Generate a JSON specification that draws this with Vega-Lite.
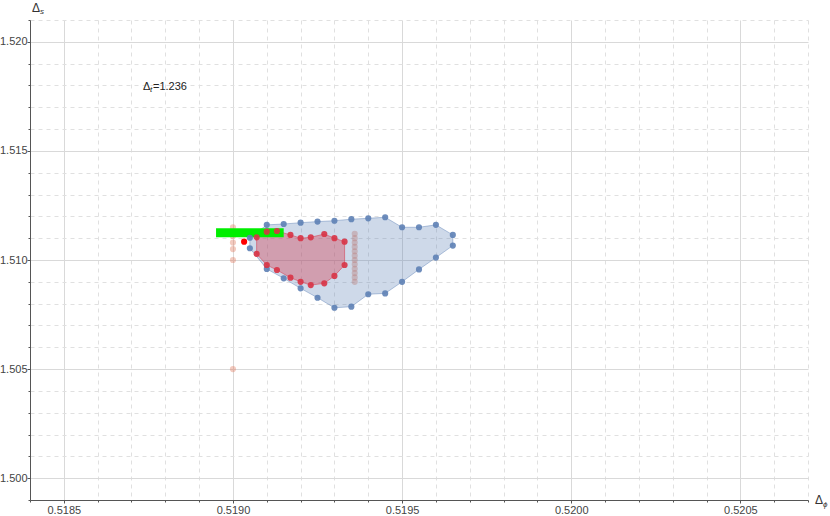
{
  "$schema": "https://vega.github.io/schema/vega-lite/v6.json",
  "width": 778,
  "height": 480,
  "autosize": {"type": "none"},
  "padding": {"left": 30, "top": 20, "right": 22, "bottom": 16},
  "background": "white",
  "config": {
    "view": {"stroke": null},
    "font": "Liberation Sans",
    "axis": {"labelFont": "Liberation Sans", "titleFont": "Liberation Sans"}
  },
  "resolve": {"axis": {"x": "independent", "y": "independent"}},
  "datasets": {
    "blue": [
      {"i": 1, "x": 0.51910, "y": 1.51161},
      {"i": 2, "x": 0.51915, "y": 1.51165},
      {"i": 3, "x": 0.51920, "y": 1.51171},
      {"i": 4, "x": 0.51925, "y": 1.51176},
      {"i": 5, "x": 0.51930, "y": 1.51180},
      {"i": 6, "x": 0.51935, "y": 1.51187},
      {"i": 7, "x": 0.51940, "y": 1.51191},
      {"i": 8, "x": 0.51945, "y": 1.51196},
      {"i": 9, "x": 0.51950, "y": 1.51150},
      {"i": 10, "x": 0.51955, "y": 1.51150},
      {"i": 11, "x": 0.51960, "y": 1.51161},
      {"i": 12, "x": 0.51965, "y": 1.51115},
      {"i": 13, "x": 0.51965, "y": 1.51066},
      {"i": 14, "x": 0.51960, "y": 1.51011},
      {"i": 15, "x": 0.51955, "y": 1.50957},
      {"i": 16, "x": 0.51950, "y": 1.50900},
      {"i": 17, "x": 0.51945, "y": 1.50847},
      {"i": 18, "x": 0.51940, "y": 1.50843},
      {"i": 19, "x": 0.51935, "y": 1.50786},
      {"i": 20, "x": 0.51930, "y": 1.50781},
      {"i": 21, "x": 0.51925, "y": 1.50827},
      {"i": 22, "x": 0.51920, "y": 1.50870},
      {"i": 23, "x": 0.51915, "y": 1.50916},
      {"i": 24, "x": 0.51910, "y": 1.50959},
      {"i": 25, "x": 0.51905, "y": 1.51054},
      {"i": 26, "x": 0.51905, "y": 1.51102},
      {"i": 27, "x": 0.51910, "y": 1.51161}
    ],
    "red": [
      {"i": 1, "x": 0.51907, "y": 1.51104},
      {"i": 2, "x": 0.51910, "y": 1.51130},
      {"i": 3, "x": 0.51913, "y": 1.51133},
      {"i": 4, "x": 0.51917, "y": 1.51115},
      {"i": 5, "x": 0.51920, "y": 1.51100},
      {"i": 6, "x": 0.51923, "y": 1.51104},
      {"i": 7, "x": 0.51927, "y": 1.51119},
      {"i": 8, "x": 0.51930, "y": 1.51100},
      {"i": 9, "x": 0.51933, "y": 1.51084},
      {"i": 10, "x": 0.51933, "y": 1.50977},
      {"i": 11, "x": 0.51930, "y": 1.50927},
      {"i": 12, "x": 0.51927, "y": 1.50893},
      {"i": 13, "x": 0.51923, "y": 1.50885},
      {"i": 14, "x": 0.51920, "y": 1.50900},
      {"i": 15, "x": 0.51917, "y": 1.50919},
      {"i": 16, "x": 0.51913, "y": 1.50954},
      {"i": 17, "x": 0.51910, "y": 1.50977},
      {"i": 18, "x": 0.51907, "y": 1.51028},
      {"i": 19, "x": 0.51907, "y": 1.51104}
    ],
    "faded": [
      {"x": 0.51900, "y": 1.5115},
      {"x": 0.51900, "y": 1.5111},
      {"x": 0.51900, "y": 1.5108},
      {"x": 0.51900, "y": 1.5105},
      {"x": 0.51900, "y": 1.5100},
      {"x": 0.51900, "y": 1.5050},
      {"x": 0.51936, "y": 1.5090},
      {"x": 0.51936, "y": 1.5092},
      {"x": 0.51936, "y": 1.5094},
      {"x": 0.51936, "y": 1.5096},
      {"x": 0.51936, "y": 1.5098},
      {"x": 0.51936, "y": 1.5100},
      {"x": 0.51936, "y": 1.5102},
      {"x": 0.51936, "y": 1.5104},
      {"x": 0.51936, "y": 1.5106},
      {"x": 0.51936, "y": 1.5108},
      {"x": 0.51936, "y": 1.5110},
      {"x": 0.51936, "y": 1.5112}
    ],
    "best": [{"x": 0.519033, "y": 1.51084}],
    "box": [{"x": 0.51895, "x2": 0.51915, "y": 1.51104, "y2": 1.51145}],
    "label": [
      {"part": "big", "x": 0.518734, "y": 1.51794, "text": "Δ"},
      {"part": "sub", "x": 0.518734, "y": 1.51794, "text": "t"},
      {"part": "rest", "x": 0.518734, "y": 1.51794, "text": "=1.236"}
    ],
    "ytitle": [
      {"part": "big", "x": 0.5184, "y": 1.521, "text": "Δ"},
      {"part": "sub", "x": 0.5184, "y": 1.521, "text": "s"}
    ],
    "xtitle": [
      {"part": "big", "x": 0.5207, "y": 1.499, "text": "Δ"},
      {"part": "sub", "x": 0.5207, "y": 1.499, "text": "ϕ"}
    ]
  },
  "layer": [
    {
      "data": {"name": "faded"},
      "mark": {"type": "circle", "size": 38, "color": "#E07A5F", "opacity": 0.4},
      "encoding": {
        "x": {
          "field": "x", "type": "quantitative",
          "scale": {"domain": [0.5184, 0.5207], "nice": false, "zero": false},
          "axis": {
            "orient": "bottom", "title": null, "labels": false, "domain": false,
            "values": [0.5184,0.5186,0.5187,0.5188,0.5189,0.5191,0.5192,0.5193,0.5194,0.5196,0.5197,0.5198,0.5199,0.5201,0.5202,0.5203,0.5204,0.5206,0.5207],
            "tickColor": "#555", "tickSize": 2,
            "grid": true, "gridColor": "#e0e0e0", "gridDash": [4, 4], "gridWidth": 1
          }
        },
        "y": {
          "field": "y", "type": "quantitative",
          "scale": {"domain": [1.499, 1.521], "nice": false, "zero": false},
          "axis": {
            "orient": "left", "title": null, "labels": false, "domain": false,
            "values": [1.499,1.501,1.502,1.503,1.504,1.506,1.507,1.508,1.509,1.511,1.512,1.513,1.514,1.516,1.517,1.518,1.519,1.521],
            "tickColor": "#555", "tickSize": 2,
            "grid": true, "gridColor": "#e0e0e0", "gridDash": [4, 4], "gridWidth": 1
          }
        }
      }
    },
    {
      "data": {"name": "blue"},
      "mark": {"type": "line", "fill": "#5E81B5", "fillOpacity": 0.3, "stroke": "#5E81B5", "strokeOpacity": 0.45, "strokeWidth": 1},
      "encoding": {
        "x": {
          "field": "x", "type": "quantitative",
          "axis": {
            "orient": "bottom", "title": null,
            "values": [0.5185, 0.519, 0.5195, 0.52, 0.5205],
            "format": ".4f",
            "labelOverlap": false, "labelFlush": false,
            "labelFontSize": 11, "labelColor": "#444", "labelPadding": 1,
            "domainColor": "#555", "domainWidth": 1,
            "tickColor": "#555", "tickSize": 3,
            "grid": true, "gridColor": "#d9d9d9", "gridWidth": 1
          }
        },
        "y": {
          "field": "y", "type": "quantitative",
          "axis": {
            "orient": "left", "title": null,
            "values": [1.5, 1.505, 1.51, 1.515, 1.52],
            "format": ".3f",
            "labelOverlap": false, "labelFlush": false,
            "labelFontSize": 11, "labelColor": "#444", "labelPadding": 0,
            "domainColor": "#555", "domainWidth": 1,
            "tickColor": "#555", "tickSize": 3,
            "grid": true, "gridColor": "#d9d9d9", "gridWidth": 1
          }
        },
        "order": {"field": "i", "type": "quantitative"}
      }
    },
    {
      "data": {"name": "red"},
      "mark": {"type": "line", "fill": "#D83245", "fillOpacity": 0.35, "stroke": "#D83245", "strokeOpacity": 0.5, "strokeWidth": 1},
      "encoding": {
        "x": {"field": "x", "type": "quantitative", "axis": null},
        "y": {"field": "y", "type": "quantitative", "axis": null},
        "order": {"field": "i", "type": "quantitative"}
      }
    },
    {
      "data": {"name": "box"},
      "mark": {"type": "rect", "color": "#00EE00", "opacity": 1},
      "encoding": {
        "x": {"field": "x", "type": "quantitative", "axis": null},
        "x2": {"field": "x2"},
        "y": {"field": "y", "type": "quantitative", "axis": null},
        "y2": {"field": "y2"}
      }
    },
    {
      "data": {"name": "blue"},
      "transform": [{"filter": "datum.i < 27"}],
      "mark": {"type": "circle", "size": 38, "color": "#5E81B5", "opacity": 0.9},
      "encoding": {
        "x": {"field": "x", "type": "quantitative", "axis": null},
        "y": {"field": "y", "type": "quantitative", "axis": null}
      }
    },
    {
      "data": {"name": "red"},
      "transform": [{"filter": "datum.i < 19"}],
      "mark": {"type": "circle", "size": 38, "color": "#D83245", "opacity": 0.9},
      "encoding": {
        "x": {"field": "x", "type": "quantitative", "axis": null},
        "y": {"field": "y", "type": "quantitative", "axis": null}
      }
    },
    {
      "data": {"name": "best"},
      "mark": {"type": "circle", "size": 38, "color": "#FF0000", "opacity": 1},
      "encoding": {
        "x": {"field": "x", "type": "quantitative", "axis": null},
        "y": {"field": "y", "type": "quantitative", "axis": null}
      }
    },
    {
      "data": {"name": "label"},
      "transform": [{"filter": "datum.part == 'big'"}],
      "mark": {"type": "text", "fontSize": 11, "color": "#222", "align": "left", "baseline": "middle"},
      "encoding": {
        "x": {"field": "x", "type": "quantitative", "axis": null},
        "y": {"field": "y", "type": "quantitative", "axis": null},
        "text": {"field": "text"}
      }
    },
    {
      "data": {"name": "label"},
      "transform": [{"filter": "datum.part == 'sub'"}],
      "mark": {"type": "text", "fontSize": 8, "fontStyle": "italic", "color": "#222", "align": "left", "baseline": "middle", "dx": 7, "dy": 3},
      "encoding": {
        "x": {"field": "x", "type": "quantitative", "axis": null},
        "y": {"field": "y", "type": "quantitative", "axis": null},
        "text": {"field": "text"}
      }
    },
    {
      "data": {"name": "label"},
      "transform": [{"filter": "datum.part == 'rest'"}],
      "mark": {"type": "text", "fontSize": 11, "color": "#222", "align": "left", "baseline": "middle", "dx": 10},
      "encoding": {
        "x": {"field": "x", "type": "quantitative", "axis": null},
        "y": {"field": "y", "type": "quantitative", "axis": null},
        "text": {"field": "text"}
      }
    },
    {
      "data": {"name": "ytitle"},
      "transform": [{"filter": "datum.part == 'big'"}],
      "mark": {"type": "text", "fontSize": 12, "color": "#333", "align": "left", "baseline": "middle", "dx": 2, "dy": -12},
      "encoding": {
        "x": {"field": "x", "type": "quantitative", "axis": null},
        "y": {"field": "y", "type": "quantitative", "axis": null},
        "text": {"field": "text"}
      }
    },
    {
      "data": {"name": "ytitle"},
      "transform": [{"filter": "datum.part == 'sub'"}],
      "mark": {"type": "text", "fontSize": 8, "fontStyle": "italic", "color": "#333", "align": "left", "baseline": "middle", "dx": 10, "dy": -8},
      "encoding": {
        "x": {"field": "x", "type": "quantitative", "axis": null},
        "y": {"field": "y", "type": "quantitative", "axis": null},
        "text": {"field": "text"}
      }
    },
    {
      "data": {"name": "xtitle"},
      "transform": [{"filter": "datum.part == 'big'"}],
      "mark": {"type": "text", "fontSize": 12, "color": "#333", "align": "left", "baseline": "middle", "dx": 7, "dy": 0},
      "encoding": {
        "x": {"field": "x", "type": "quantitative", "axis": null},
        "y": {"field": "y", "type": "quantitative", "axis": null},
        "text": {"field": "text"}
      }
    },
    {
      "data": {"name": "xtitle"},
      "transform": [{"filter": "datum.part == 'sub'"}],
      "mark": {"type": "text", "fontSize": 8, "fontStyle": "italic", "color": "#333", "align": "left", "baseline": "middle", "dx": 15, "dy": 5},
      "encoding": {
        "x": {"field": "x", "type": "quantitative", "axis": null},
        "y": {"field": "y", "type": "quantitative", "axis": null},
        "text": {"field": "text"}
      }
    }
  ]
}
